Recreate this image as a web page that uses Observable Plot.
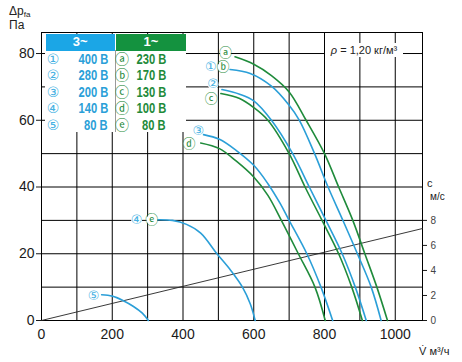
<!DOCTYPE html>
<html><head><meta charset="utf-8">
<script src="https://cdn.jsdelivr.net/npm/d3@7"></script>
<script src="https://cdn.jsdelivr.net/npm/@observablehq/plot@0.6"></script>
<style>
body{margin:0;background:#fff;font-family:"Liberation Sans",Arial,sans-serif;}
#wrap{position:relative;width:462px;height:362px;overflow:hidden;}
.abs{position:absolute;white-space:nowrap;}
.circ{font-family:"DejaVu Sans","Noto Sans CJK SC",sans-serif;}
.volt{font-family:"Liberation Sans",Arial,sans-serif;font-weight:bold;font-size:14px;}
.volt span{display:inline-block;transform:scaleX(0.8);transform-origin:100% 50%;}
</style></head><body><div id="wrap"></div>
<script>
// Fan curves: [volume flow m³/h, static pressure Pa]
const curveA = [[547,79],[600,76.8],[650,73.4],[700,68.5],[748,60],[800,50],[840,40],[880,30],[914,20],[948,10],[978,0]];
const curve1 = [[533,75.2],[590,74],[650,70.2],[700,64.5],[729,60],[772,50],[810,40],[852,30],[893,20],[932,10],[960,0]];
const curve2 = [[510,69.2],[560,67.8],[600,65.8],[650,60],[710,50],[757,40],[804,30],[850,20],[887,10],[918,0]];
const curveC = [[507,68],[560,66.5],[600,63.8],[640,60],[700,50],[745,40],[793,30],[840,20],[877,10],[907,0]];
const curve3 = [[458,55.7],[503,54.3],[550,51],[600,46.5],[640,41],[675,35],[700,30],[750,20],[790,10],[823,0]];
const curveD = [[450,53.2],[503,51.5],[550,47.8],[600,43],[640,37.5],[678,30],[726,20],[773,10],[802,0]];
const curve4 = [[326,30.2],[370,30],[410,28.8],[450,26.2],[496,20],[535,15],[568,10],[590,5],[604,0]];
const curve5 = [[170,7.7],[200,7.3],[230,6],[260,4.2],[285,2.2],[302,0]];

// velocity line: [flow, velocity m/s]
const velocityLine = [[0,0],[1077,7.35]];
const velocityTicks = [0,2,4,6,8];
const paPerMs = 30/8;

const curveNames = ["ⓐ","①","ⓑ","②","ⓒ","③","ⓓ","④","ⓔ","⑤"];
const labelQ = [520,479,513,485,480,443,417,269,312,147];
const labelP = [80.2,76.1,75.9,70.8,66.5,56.8,53,30.2,30.2,7.3];

const xTicks = [0,200,400,600,800,1000];
const yTicks = [0,20,40,60,80];
const xGrid = d3.range(0,1001,100);
const yGrid = d3.range(0,81,10);

const threePhaseKeys = ["①","②","③","④","⑤"];
const threePhaseVolts = ["400 B","280 B","200 B","140 B","80 B"];
const singlePhaseKeys = ["ⓐ","ⓑ","ⓒ","ⓓ","ⓔ"];
const singlePhaseVolts = ["230 B","170 B","130 B","100 B","80 B"];

const BLUE = "#2b9fd8", GREEN = "#1f8b3b";

const series = [
  {pts: curveD, c: GREEN},{pts: curve3, c: BLUE},
  {pts: curveC, c: GREEN},{pts: curve2, c: BLUE},
  {pts: curve1, c: BLUE},{pts: curveA, c: GREEN},
  {pts: curve4, c: BLUE},{pts: curve5, c: BLUE}
];

const labels = curveNames.map((n,i)=>({n, q: labelQ[i], p: labelP[i], letter: /[ⓐ-ⓩ]/.test(n)}));

const marks = [
  Plot.gridX({ticks: xGrid, stroke: "#000", strokeOpacity: 1, strokeWidth: 1}),
  Plot.gridY({ticks: yGrid, stroke: "#000", strokeOpacity: 1, strokeWidth: 1}),
  Plot.frame({stroke: "#000", strokeWidth: 1}),
  Plot.line(velocityLine, {x: d=>d[0], y: d=>d[1]*paPerMs, stroke: "#222", strokeWidth: 0.9}),
  ...series.map(s => Plot.line(s.pts, {x: d=>d[0], y: d=>d[1], stroke: s.c, strokeWidth: 1.6, curve: "catmull-rom"})),
  Plot.dot(labels, {x: "q", y: "p", r: 5.5, fill: "white", stroke: null}),
  Plot.text(labels, {x: "q", y: "p", text: "n", fill: d => d.letter ? GREEN : "#45b1e3", fontSize: 13, fontFamily: "DejaVu Sans, Noto Sans CJK SC, sans-serif"}),
  Plot.axisX({ticks: xTicks, tickSize: 0, tickPadding: 9, fontSize: 14, label: null, tickFormat: d => String(d)}),
  Plot.axisY({ticks: yTicks, anchor: "left", tickSize: 5, tickPadding: 2, fontSize: 14, label: null}),
  Plot.axisY({ticks: velocityTicks.map(c=>c*paPerMs), anchor: "right", tickSize: 4, tickPadding: 4, fontSize: 10, fill: "#444", tickFormat: d => String(Math.round(d/paPerMs)), label: null})
];

const chart = Plot.plot({
  width: 462, height: 362,
  marginLeft: 41, marginRight: 40, marginTop: 32, marginBottom: 42,
  x: {domain: [0,1077]},
  y: {domain: [0,86.3]},
  style: {fontFamily: "Liberation Sans, Arial, sans-serif", color: "#1a1a1a", background: "white"},
  marks
});
const wrap = document.getElementById("wrap");
wrap.appendChild(chart);

function add(html, css, cls) {
  const d = document.createElement("div");
  d.className = "abs " + (cls||"");
  d.innerHTML = html;
  Object.assign(d.style, css);
  wrap.appendChild(d);
  return d;
}
// legend table
add("", {left:"45px", top:"34px", width:"141px", height:"98px", background:"white"});
add("3~", {left:"46px", top:"34px", width:"68.5px", height:"16.5px", background:"#1ba6e6", color:"white", font:"bold 13px 'Liberation Sans',Arial,sans-serif", textAlign:"center", lineHeight:"16.5px"});
add("1~", {left:"116px", top:"34px", width:"70px", height:"16.5px", background:"#14923f", color:"white", font:"bold 13px 'Liberation Sans',Arial,sans-serif", textAlign:"center", lineHeight:"16.5px"});
add("", {left:"115px", top:"50px", width:"1px", height:"82px", background:"#9a9a9a"});
threePhaseKeys.forEach((k,i)=>{
  const cy = 58.5 + i*16.5;
  add(k, {left:"45px", width:"16px", top:(cy-8)+"px", height:"16px", lineHeight:"16px", textAlign:"center", color:"#45b1e3", fontSize:"14px"}, "circ");
  add("<span>"+threePhaseVolts[i]+"</span>", {left:"60px", width:"48px", top:(cy-8)+"px", height:"16px", lineHeight:"16px", textAlign:"right", color:"#2b9fd8"}, "volt");
  add(singlePhaseKeys[i], {left:"114px", width:"16px", top:(cy-8)+"px", height:"16px", lineHeight:"16px", textAlign:"center", color:GREEN, fontSize:"14px"}, "circ");
  add("<span>"+singlePhaseVolts[i]+"</span>", {left:"120px", width:"46px", top:(cy-8)+"px", height:"16px", lineHeight:"16px", textAlign:"right", color:GREEN}, "volt");
});
// density note
add("<i>ρ</i> = 1,20 кг/м³", {left:"325px", top:"43px", width:"78px", height:"14px", lineHeight:"14px", background:"white", textAlign:"center", fontSize:"11px", color:"#222"});
// axis titles
add("Δp<sub style='font-size:8px;vertical-align:-2px'>fa</sub>", {left:"9px", top:"4px", fontSize:"12px", color:"#222", lineHeight:"14px"});
add("Па", {left:"9px", top:"18px", fontSize:"12px", color:"#222", lineHeight:"14px"});
add("V̇ м³/ч", {left:"419px", top:"344px", fontSize:"11px", color:"#222", lineHeight:"14px"});
add("с", {left:"427px", top:"177px", fontSize:"11px", color:"#222", lineHeight:"13px"});
add("м/с", {left:"430px", top:"190px", fontSize:"10px", color:"#222", lineHeight:"13px"});
</script></body></html>
